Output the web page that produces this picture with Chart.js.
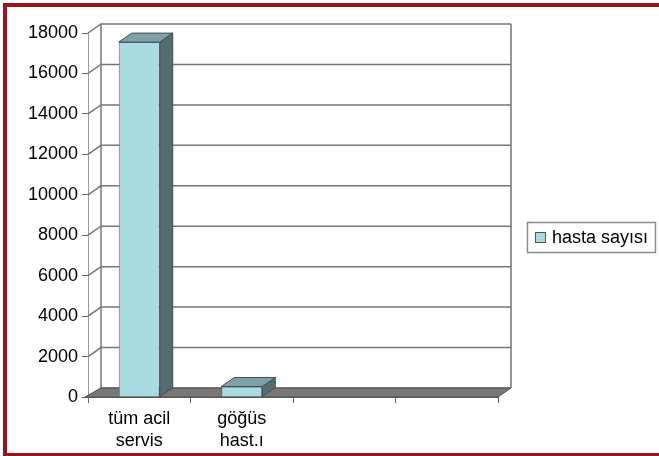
<!DOCTYPE html>
<html lang="tr">
<head>
  <meta charset="UTF-8">
  <title>hasta sayısı</title>
  <script src="https://cdn.jsdelivr.net/npm/chart.js"></script>
  <style>
    html, body { margin: 0; padding: 0; background: #fff; overflow: hidden; }
    .wrap { position: relative; width: 659px; height: 456px; }
    .frame {
      position: absolute; left: 3px; top: 3px; width: 700px; height: 446px;
      border-left: 4px solid #a0121a; border-top: 4px solid #a0121a; border-bottom: 3px solid #a0121a;
      pointer-events: none;
    }
  </style>
</head>
<body>
  <div class="wrap">
    <canvas id="chart" width="659" height="456"></canvas>
    <div class="frame"></div>
  </div>

  <script>
    // data
    const categories = [['tüm acil', 'servis'], ['göğüs', 'hast.ı'], '', ''];
    const hastaSayisi = [17550, 520, null, null];
    const seriesName = 'hasta sayısı';
    const yMax = 18000;
    const yStep = 2000;

    const DX = 13, DY = -9; // 3d depth offset
    const FRONT = '#a8dce0', SIDE = '#566b70', TOP = '#7fa0a7';

    Chart.defaults.font.family = "'Liberation Sans', Arial, sans-serif";
    Chart.defaults.color = '#000';

    const depth3d = {
      id: 'depth3d',
      beforeDatasetsDraw(chart) {
        const { ctx, chartArea: a, scales: { y } } = chart;
        ctx.save();
        ctx.strokeStyle = '#767676';
        ctx.lineWidth = 1.5;
        // left wall diagonals + back wall gridlines
        y.ticks.forEach(t => {
          const py = y.getPixelForValue(t.value);
          ctx.beginPath();
          ctx.moveTo(a.left, py);
          ctx.lineTo(a.left + DX, py + DY);
          ctx.lineTo(a.right + DX, py + DY);
          ctx.stroke();
        });
        ctx.beginPath();
        ctx.moveTo(a.left + DX, a.top + DY);
        ctx.lineTo(a.left + DX, a.bottom + DY);
        ctx.moveTo(a.right + DX, a.top + DY);
        ctx.lineTo(a.right + DX, a.bottom + DY);
        ctx.stroke();
        // floor
        ctx.beginPath();
        ctx.moveTo(a.left - 3, a.bottom);
        ctx.lineTo(a.right, a.bottom);
        ctx.lineTo(a.right + DX, a.bottom + DY);
        ctx.lineTo(a.left + DX, a.bottom + DY);
        ctx.closePath();
        ctx.fillStyle = '#777';
        ctx.fill();
        ctx.strokeStyle = '#555';
        ctx.lineWidth = 1;
        ctx.stroke();
        ctx.restore();
      },
      afterDatasetsDraw(chart) {
        const { ctx } = chart;
        const meta = chart.getDatasetMeta(0);
        ctx.save();
        ctx.strokeStyle = '#3e4f53';
        ctx.lineWidth = 1;
        meta.data.forEach((bar, i) => {
          if (hastaSayisi[i] == null) return;
          const { x, y, base, width } = bar.getProps(['x', 'y', 'base', 'width'], true);
          const x0 = x - width / 2, x1 = x + width / 2;
          // side
          ctx.beginPath();
          ctx.moveTo(x1, y);
          ctx.lineTo(x1 + DX, y + DY);
          ctx.lineTo(x1 + DX, base + DY);
          ctx.lineTo(x1, base);
          ctx.closePath();
          ctx.fillStyle = SIDE;
          ctx.fill();
          ctx.stroke();
          // top
          ctx.beginPath();
          ctx.moveTo(x0, y);
          ctx.lineTo(x0 + DX, y + DY);
          ctx.lineTo(x1 + DX, y + DY);
          ctx.lineTo(x1, y);
          ctx.closePath();
          ctx.fillStyle = TOP;
          ctx.fill();
          ctx.stroke();
        });
        ctx.restore();
      },
      afterDraw(chart) {
        // legend box on the right
        const { ctx } = chart;
        ctx.save();
        ctx.strokeStyle = '#8a8a8a';
        ctx.lineWidth = 1.5;
        ctx.strokeRect(527.5, 222.5, 128, 30);
        ctx.fillStyle = FRONT;
        ctx.fillRect(535, 232, 10, 10);
        ctx.strokeStyle = '#555';
        ctx.lineWidth = 1;
        ctx.strokeRect(535.5, 232.5, 10, 10);
        ctx.fillStyle = '#000';
        ctx.font = "18px 'Liberation Sans', Arial, sans-serif";
        ctx.textBaseline = 'middle';
        ctx.fillText(chart.data.datasets[0].label, 552, 238);
        ctx.restore();
      }
    };

    new Chart(document.getElementById('chart'), {
      type: 'bar',
      data: {
        labels: categories,
        datasets: [{
          label: seriesName,
          data: hastaSayisi,
          backgroundColor: FRONT,
          borderColor: '#5f7378',
          borderWidth: 1,
          barPercentage: 0.4,
          categoryPercentage: 1
        }]
      },
      options: {
        responsive: false,
        animation: false,
        layout: { padding: { left: 0, right: 161, top: 33, bottom: 0 } },
        plugins: { legend: { display: false }, tooltip: { enabled: false } },
        scales: {
          x: {
            grid: { offset: true, drawOnChartArea: false, drawTicks: true, tickLength: 6, color: '#666' },
            border: { display: true, color: '#555' },
            ticks: { font: { size: 18, lineHeight: 1.22 }, padding: 5, maxRotation: 0, autoSkip: false },
            afterFit(s) { s.height = 59; }
          },
          y: {
            min: 0,
            max: yMax,
            grid: { drawOnChartArea: false, drawTicks: true, tickLength: 6, color: '#666' },
            border: { display: true, color: '#999' },
            ticks: { stepSize: yStep, font: { size: 18 }, padding: 4, callback: v => String(v) },
            afterFit(s) { s.width = 88; }
          }
        }
      },
      plugins: [depth3d]
    });
  </script>
</body>
</html>
